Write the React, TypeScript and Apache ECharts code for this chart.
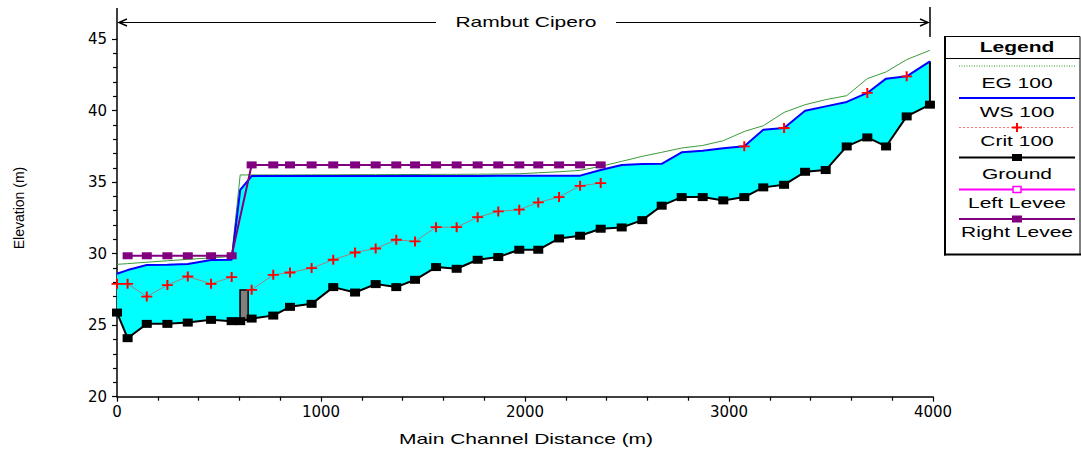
import React, { useEffect, useRef } from 'react';
import * as echarts from 'echarts';

// Main channel stations (m)
const stations = [0, 52, 146, 247, 347, 461, 562, 604, 660, 766, 848, 954, 1060, 1167, 1268, 1369, 1461, 1564, 1665, 1768, 1869, 1972, 2065, 2167, 2270, 2371, 2474, 2575, 2670, 2768, 2871, 2972, 3075, 3168, 3270, 3373, 3474, 3577, 3678, 3770, 3871, 3985];

// Ground (channel invert) elevation (m)
const ground = [25.88, 24.09, 25.09, 25.09, 25.18, 25.37, 25.28, 25.28, 25.46, 25.67, 26.28, 26.49, 27.66, 27.28, 27.87, 27.66, 28.17, 29.06, 28.94, 29.57, 29.76, 30.27, 30.27, 31.06, 31.25, 31.74, 31.83, 32.34, 33.35, 33.95, 33.95, 33.72, 33.95, 34.63, 34.81, 35.72, 35.84, 37.49, 38.12, 37.49, 39.59, 40.41];

// WS 100
const waterSurface = [28.59, 28.85, 29.2, 29.22, 29.27, 29.55, 29.57, 34.45, 35.42, 35.42, 35.42, 35.42, 35.42, 35.43, 35.42, 35.43, 35.45, 35.42, 35.42, 35.43, 35.44, 35.44, 35.44, 35.44, 35.45, 35.85, 36.2, 36.26, 36.28, 37.08, 37.19, 37.36, 37.5, 38.66, 38.78, 39.99, 40.29, 40.6, 41.23, 42.23, 42.39, 43.44];

// EG 100
const energyGrade = [29.25, 29.3, 29.4, 29.5, 29.6, 29.7, 29.8, 35.5, 35.5, 35.5, 35.5, 35.51, 35.51, 35.52, 35.52, 35.53, 35.53, 35.54, 35.54, 35.55, 35.56, 35.58, 35.65, 35.72, 35.82, 36.1, 36.45, 36.8, 37.08, 37.38, 37.56, 37.89, 38.54, 38.94, 39.87, 40.41, 40.76, 41.04, 42.23, 42.7, 43.56, 44.21];

// Crit 100 (null = not computed)
const critical: (number | null)[] = [27.89, 27.89, 27.0, 27.8, 28.4, 27.89, 28.36, null, 27.47, 28.52, 28.68, 28.99, 29.57, 30.08, 30.36, 30.97, 30.85, 31.85, 31.85, 32.55, 32.95, 33.07, 33.58, 33.95, 34.74, 34.93, null, null, null, null, null, null, 37.5, null, 38.78, null, null, null, 41.23, null, 42.39, null];

// Right levee (null = none)
const rightLevee: (number | null)[] = [null, 29.85, 29.85, 29.85, 29.85, 29.85, 29.85, null, 36.2, 36.2, 36.2, 36.2, 36.2, 36.2, 36.2, 36.2, 36.2, 36.2, 36.2, 36.2, 36.2, 36.2, 36.2, 36.2, 36.2, 36.2, null, null, null, null, null, null, null, null, null, null, null, null, null, null, null, null];

// Inline structure block: [x0, y0, x1, y1]
const structure = [[603, 25.35, 643, 27.45]];

const xAxisRange = [0, 4000, 1000];
const yAxisRange = [20, 45, 5];

const reachTitle = 'Rambut Cipero';
const legendItems = ['EG 100', 'WS 100', 'Crit 100', 'Ground', 'Left Levee', 'Right Levee'];

const pairs = (ys: (number | null)[]) => stations.map((x, i) => [x, ys[i] == null ? '-' : ys[i]]);

const FONT = '"Liberation Sans", Arial, sans-serif';
const PLUS = 'path://M0,4.5H11V6.5H0Z M4.5,0H6.5V11H4.5Z';

function buildGraphic() {
  const els: any[] = [];
  const txt = (text: string, x: number, y: number, extra: any = {}, font = `14px ${FONT}`) => ({
    type: 'text', x, y, scaleX: 1.5, ...extra,
    style: { text, font, fill: '#000', align: 'center', verticalAlign: 'middle' },
  });
  // reach bracket
  els.push({ type: 'line', shape: { x1: 117, y1: 8, x2: 117, y2: 39 }, style: { stroke: '#000', lineWidth: 1.5 } });
  els.push({ type: 'line', shape: { x1: 930, y1: 7, x2: 930, y2: 37 }, style: { stroke: '#000', lineWidth: 1.5 } });
  els.push({ type: 'line', shape: { x1: 119, y1: 22.5, x2: 436, y2: 22.5 }, style: { stroke: '#000', lineWidth: 1 } });
  els.push({ type: 'line', shape: { x1: 616, y1: 22.5, x2: 928, y2: 22.5 }, style: { stroke: '#000', lineWidth: 1 } });
  els.push({ type: 'polyline', shape: { points: [[127, 19], [119, 22.5], [127, 26]] }, style: { stroke: '#000', lineWidth: 1.5, fill: 'none' } });
  els.push({ type: 'polyline', shape: { points: [[920, 19], [928, 22.5], [920, 26]] }, style: { stroke: '#000', lineWidth: 1.5, fill: 'none' } });
  els.push(txt(reachTitle, 526, 22));
  // axis titles
  els.push(txt('Main Channel Distance (m)', 526, 439));
  els.push({
    type: 'text', x: 19, y: 208, rotation: Math.PI / 2,
    style: { text: 'Elevation (m)', font: `14px ${FONT}`, fill: '#000', align: 'center', verticalAlign: 'middle' },
  });
  // legend box
  els.push({ type: 'rect', shape: { x: 945, y: 36.5, width: 135, height: 218 }, style: { fill: '#fff', stroke: '#000', lineWidth: 1 } });
  els.push({ type: 'line', shape: { x1: 945, y1: 36, x2: 945, y2: 255.5 }, style: { stroke: '#000', lineWidth: 2 } });
  els.push({ type: 'line', shape: { x1: 944, y1: 254.5, x2: 1081, y2: 254.5 }, style: { stroke: '#000', lineWidth: 2 } });
  els.push({ type: 'line', shape: { x1: 945, y1: 58.5, x2: 1080, y2: 58.5 }, style: { stroke: '#000', lineWidth: 1 } });
  els.push(txt('Legend', 1017, 47, {}, `bold 14px ${FONT}`));
  const lineY = [66, 98, 127.5, 157.5, 189.5, 219];
  const textY = [83, 112.5, 141, 174, 203, 232];
  const lineStyles = [
    { stroke: '#22a022', lineWidth: 1, lineDash: [1, 1.5] },
    { stroke: '#0000ff', lineWidth: 2 },
    { stroke: '#ff7070', lineWidth: 1, lineDash: [2, 2] },
    { stroke: '#000', lineWidth: 2 },
    { stroke: '#ff00ff', lineWidth: 2 },
    { stroke: '#800080', lineWidth: 2 },
  ];
  legendItems.forEach((name, i) => {
    els.push({ type: 'line', shape: { x1: 959, y1: lineY[i], x2: 1075, y2: lineY[i] }, style: lineStyles[i] });
    els.push(txt(name, 1017, textY[i]));
  });
  // legend markers
  els.push({ type: 'line', shape: { x1: 1012, y1: 127.5, x2: 1022, y2: 127.5 }, style: { stroke: '#ff0000', lineWidth: 2 } });
  els.push({ type: 'line', shape: { x1: 1017, y1: 123, x2: 1017, y2: 132 }, style: { stroke: '#ff0000', lineWidth: 2 } });
  els.push({ type: 'rect', shape: { x: 1012, y: 154, width: 10, height: 7 }, style: { fill: '#000' } });
  els.push({ type: 'rect', shape: { x: 1013, y: 186.5, width: 8, height: 6 }, style: { fill: '#fff', stroke: '#ff00ff', lineWidth: 1.5 } });
  els.push({ type: 'rect', shape: { x: 1012, y: 215.5, width: 10, height: 7 }, style: { fill: '#800080' } });
  return els;
}

const option: any = {
  animation: false,
  backgroundColor: '#fff',
  grid: { left: 117, right: 148, top: 39, bottom: 53.3, containLabel: false, outerBoundsMode: 'none' },
  xAxis: {
    type: 'value', min: xAxisRange[0], max: xAxisRange[1], interval: xAxisRange[2],
    axisLine: { show: true, onZero: false, lineStyle: { color: '#000', width: 1.5 } },
    axisTick: { show: true, length: 5, lineStyle: { color: '#000', width: 1.2 } },
    minorTick: { show: true, splitNumber: 5, length: 4, lineStyle: { color: '#000', width: 1.2 } },
    axisLabel: { color: '#000', fontFamily: 'DejaVu Sans', fontSize: 15, margin: 8, formatter: (v: number) => String(v) },
    splitLine: { show: false },
  },
  yAxis: {
    type: 'value', min: yAxisRange[0], max: yAxisRange[1], interval: yAxisRange[2],
    axisLine: { show: true, onZero: false, lineStyle: { color: '#000', width: 1.5 } },
    axisTick: { show: true, length: 5, lineStyle: { color: '#000', width: 1.2 } },
    minorTick: { show: true, splitNumber: 5, length: 4, lineStyle: { color: '#000', width: 1.2 } },
    axisLabel: { color: '#000', fontFamily: 'DejaVu Sans', fontSize: 15, margin: 10, formatter: (v: number) => String(v) },
    splitLine: { show: false },
  },
  legend: { show: false },
  graphic: { elements: buildGraphic() },
  series: [
    {
      name: 'WS fill', type: 'custom', z: 1, silent: true,
      data: stations.map((x, i) => [x, ground[i], waterSurface[i]]),
      encode: { x: 0, y: [1, 2] },
      renderItem: (params: any, api: any) => {
        if (params.dataIndex !== 0) return null;
        const top = stations.map((x, i) => api.coord([x, waterSurface[i]]));
        const bottom = stations.map((x, i) => api.coord([x, ground[i]])).reverse();
        const last = stations.length - 1;
        const a = api.coord([stations[last], ground[last]]);
        const b = api.coord([stations[last], waterSurface[last]]);
        return {
          type: 'group',
          children: [
            { type: 'polygon', shape: { points: [...top, ...bottom] }, style: { fill: '#00ffff', stroke: 'none' } },
            { type: 'line', shape: { x1: a[0], y1: a[1], x2: b[0], y2: b[1] }, style: { stroke: '#000', lineWidth: 2 } },
          ],
        };
      },
    },
    {
      name: 'Structure', type: 'custom', z: 2, silent: true,
      data: structure,
      encode: { x: [0, 2], y: [1, 3] },
      renderItem: (params: any, api: any) => {
        const p0 = api.coord([api.value(0), api.value(3)]);
        const p1 = api.coord([api.value(2), api.value(1)]);
        return { type: 'rect', shape: { x: p0[0], y: p0[1], width: p1[0] - p0[0], height: p1[1] - p0[1] }, style: { fill: '#808080', stroke: '#000', lineWidth: 1.5 } };
      },
    },
    {
      name: 'EG 100', type: 'line', z: 3, data: pairs(energyGrade), showSymbol: false, symbol: 'none',
      lineStyle: { color: '#3a9a3a', width: 1 },
    },
    {
      name: 'WS 100', type: 'line', z: 4, data: pairs(waterSurface), showSymbol: false, symbol: 'none',
      lineStyle: { color: '#0000ff', width: 2 },
    },
    {
      name: 'Crit 100', type: 'line', z: 5, data: pairs(critical), connectNulls: false,
      symbol: PLUS, symbolSize: [11, 10], itemStyle: { color: '#ff0000' },
      lineStyle: { color: '#a08080', width: 1 },
    },
    {
      name: 'Ground', type: 'line', z: 6, data: pairs(ground),
      symbol: 'rect', symbolSize: [10, 8], itemStyle: { color: '#000' },
      lineStyle: { color: '#000', width: 2 },
    },
    {
      name: 'Right Levee', type: 'line', z: 7, data: pairs(rightLevee), connectNulls: true,
      symbol: 'rect', symbolSize: [10, 7], itemStyle: { color: '#800080' },
      lineStyle: { color: '#800080', width: 2 },
    },
  ],
};

export default function App() {
  const ref = useRef<HTMLDivElement>(null);
  useEffect(() => {
    const chart = echarts.init(ref.current!, null, { renderer: 'svg' });
    chart.setOption(option);
    return () => chart.dispose();
  }, []);
  return <div ref={ref} style={{ position: 'fixed', left: 0, top: 0, width: 1081, height: 450, background: '#fff' }} />;
}
